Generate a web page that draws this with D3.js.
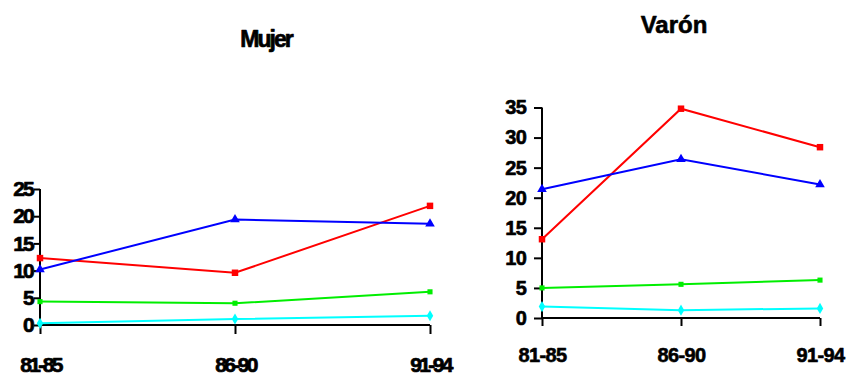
<!DOCTYPE html>
<html>
<head>
<meta charset="utf-8">
<script src="https://cdn.jsdelivr.net/npm/d3@7"></script>
<style>
  html, body { margin: 0; padding: 0; background: #fff; }
  svg { display: block; font-family: "Liberation Sans", Arial, sans-serif; }
</style>
</head>
<body>
<svg id="chart" width="850" height="376"></svg>
<script>
// Periods on the x axis
const periods = ["81-85", "86-90", "91-94"];

// Mujer panel
const mujerTicks = [0, 5, 10, 15, 20, 25];
const mujerRed = [12.3, 9.6, 21.9];
const mujerBlue = [10.2, 19.4, 18.6];
const mujerGreen = [4.3, 4.0, 6.1];
const mujerCyan = [0.3, 1.1, 1.7];

// Varón panel
const varonTicks = [0, 5, 10, 15, 20, 25, 30, 35];
const varonRed = [13.1, 34.8, 28.4];
const varonBlue = [21.4, 26.4, 22.2];
const varonGreen = [5.0, 5.6, 6.3];
const varonCyan = [1.9, 1.3, 1.6];

const seriesStyle = [
  { key: "red", color: "#ff0000", symbol: d3.symbolSquare, size: 42 },
  { key: "blue", color: "#0000ff", symbol: d3.symbolTriangle, size: 40 },
  { key: "green", color: "#00ee00", symbol: d3.symbolSquare, size: 26 },
  { key: "cyan", color: "#00ffff", symbol: d3.symbolDiamond, size: 36 }
];

const svg = d3.select("#chart");

// heavy bold text: fill plus a thin outline of the same colour
function heavy(sel, size, spacing, weight) {
  sel.attr("font-size", size).attr("font-weight", "bold")
    .attr("letter-spacing", spacing)
    .attr("font-family", "Liberation Sans, Arial, sans-serif")
    .attr("fill", "#000").attr("stroke", "#000")
    .attr("stroke-width", weight).attr("stroke-linejoin", "round");
}

function drawPanel(cfg) {
  const x = d3.scalePoint().domain(periods).range([cfg.left, cfg.right]);
  const y = d3.scaleLinear().domain([0, cfg.max]).range([cfg.bottom, cfg.top]);
  const g = svg.append("g");

  // title
  g.append("text")
    .attr("x", cfg.titleX).attr("y", cfg.titleY)
    .attr("text-anchor", "middle")
    .call(heavy, cfg.titleSize, cfg.titleSpacing, cfg.weight)
    .text(cfg.title);

  // y axis
  const yAxis = g.append("g")
    .attr("transform", `translate(${cfg.left},0)`)
    .call(d3.axisLeft(y).tickValues(cfg.ticks).tickSize(cfg.yTick).tickPadding(cfg.yPad).tickFormat(d3.format("d")));
  yAxis.select(".domain").attr("stroke", "#000").attr("stroke-width", 2)
    .attr("d", `M0,${cfg.bottom}V${cfg.top}`);
  yAxis.selectAll(".tick line").attr("stroke", "#000").attr("stroke-width", 2);
  yAxis.selectAll(".tick text").call(heavy, cfg.yLabelSize, cfg.yLabelSpacing, cfg.weight);

  // x axis
  const xAxis = g.append("g")
    .attr("transform", `translate(0,${cfg.bottom})`)
    .call(d3.axisBottom(x).tickSize(cfg.xTick).tickPadding(cfg.xPad));
  xAxis.select(".domain").attr("stroke", "#000").attr("stroke-width", 2)
    .attr("d", `M${cfg.left},0H${cfg.right}`);
  xAxis.selectAll(".tick line").attr("stroke", "#000").attr("stroke-width", 2);
  xAxis.selectAll(".tick text").call(heavy, cfg.xLabelSize, cfg.xLabelSpacing, cfg.weight);

  const line = d3.line().x((d, i) => x(periods[i])).y(d => y(d));

  // lines, drawn bottom series first
  const order = [3, 2, 0, 1];
  order.forEach(k => {
    const s = seriesStyle[k];
    const vals = cfg.series[k];
    g.append("path").datum(vals)
      .attr("fill", "none").attr("stroke", s.color).attr("stroke-width", 2)
      .attr("d", line);
    g.selectAll(null).data(vals).enter().append("path")
      .attr("transform", (d, i) => `translate(${x(periods[i])},${y(d)})`)
      .attr("d", d3.symbol().type(s.symbol).size(s.size))
      .attr("fill", s.color);
  });
}

drawPanel({
  title: "Mujer", titleX: 266, titleY: 47, titleSize: 23, titleSpacing: -2, weight: 0.7,
  left: 40, right: 430, bottom: 325, top: 189, max: 25, ticks: mujerTicks,
  yTick: 6, yPad: 1, xTick: 9, xPad: 23,
  yLabelSize: 21, yLabelSpacing: -1.8, xLabelSize: 21, xLabelSpacing: -2.6,
  series: [mujerRed, mujerBlue, mujerGreen, mujerCyan]
});

drawPanel({
  title: "Varón", titleX: 674, titleY: 33, titleSize: 24, titleSpacing: 0, weight: 0.6,
  left: 542, right: 820, bottom: 318, top: 107.5, max: 35, ticks: varonTicks,
  yTick: 8, yPad: 8, xTick: 8, xPad: 22,
  yLabelSize: 20, yLabelSpacing: -0.8, xLabelSize: 20, xLabelSpacing: -0.6,
  series: [varonRed, varonBlue, varonGreen, varonCyan]
});
</script>
</body>
</html>
